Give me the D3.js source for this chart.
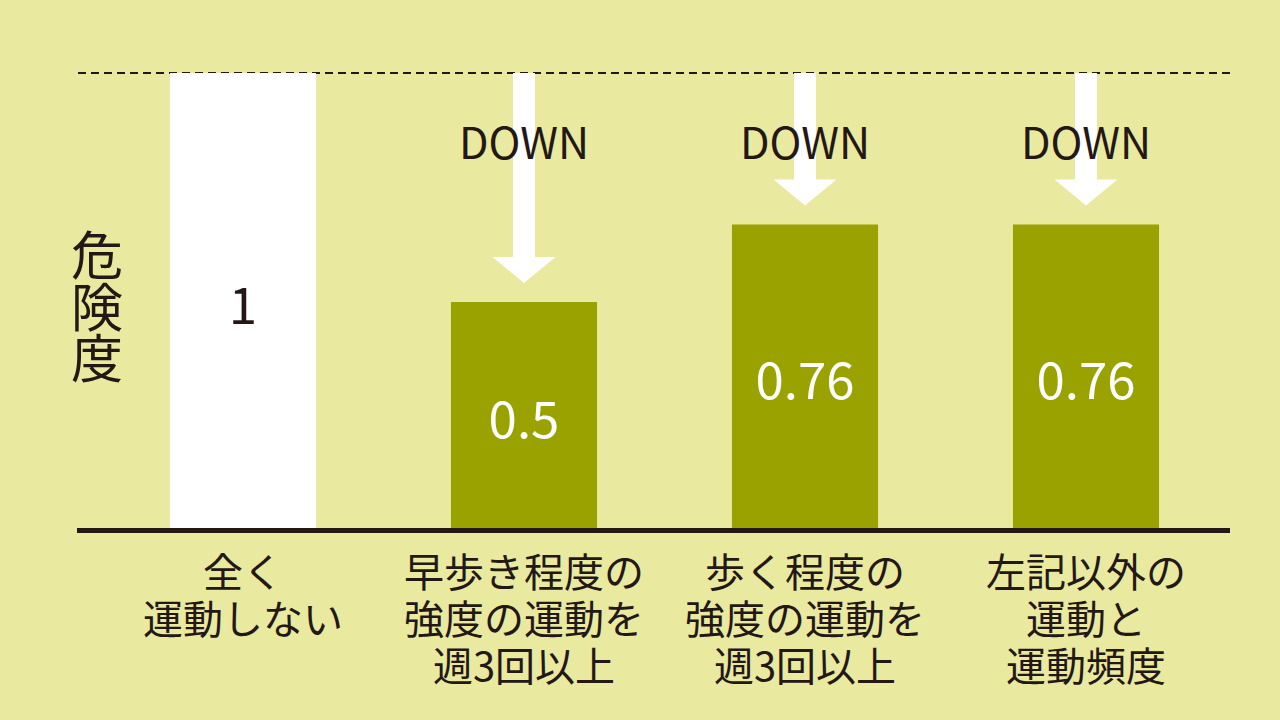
<!DOCTYPE html>
<html>
<head>
<meta charset="utf-8">
<script src="https://cdn.jsdelivr.net/npm/d3@7"></script>
<style>
  html, body { margin: 0; padding: 0; background: #e9e9a0; }
  svg { display: block; }
  text { font-family: "Noto Sans CJK JP", "Noto Sans", sans-serif; fill: #231815; }
</style>
</head>
<body>
<svg id="chart"></svg>
<script>
// Data
const categories = [
    ["全く", "運動しない"],
    ["早歩き程度の", "強度の運動を", "週3回以上"],
    ["歩く程度の", "強度の運動を", "週3回以上"],
    ["左記以外の", "運動と", "運動頻度"]
];
const riskValues = [1, 0.5, 0.76, 0.76];
const valueLabels = ["1", "0.5", "0.76", "0.76"];
const yLabel = ["危", "険", "度"];
const arrowText = "DOWN";

const W = 1280, H = 720;
const bg = "#e9e9a0";
const barColor = "#9aa200";
const ink = "#231815";

const svg = d3.select("#chart").attr("width", W).attr("height", H);
svg.append("rect").attr("width", W).attr("height", H).attr("fill", bg);

// Scales (the original chart is illustrative, bars are not drawn to a single linear ratio)
const x = d3.scaleBand()
    .domain(d3.range(categories.length))
    .range([102.5, 1226.5])
    .paddingInner(0.48)
    .paddingOuter(0.24);

const y = d3.scaleLinear()
    .domain([0, 0.5, 0.76, 1])
    .range([530, 302, 224.5, 73]);

// Reference dashed line at 1
svg.append("line")
    .attr("x1", 78).attr("x2", 1230)
    .attr("y1", y(1)).attr("y2", y(1))
    .attr("stroke", ink)
    .attr("stroke-width", 2)
    .attr("stroke-dasharray", "8,5");

// Bars
svg.selectAll(".bar")
    .data(riskValues)
    .enter().append("rect")
    .attr("class", "bar")
    .attr("x", (d, i) => x(i))
    .attr("y", d => y(d))
    .attr("width", x.bandwidth())
    .attr("height", d => y(0) - y(d))
    .attr("fill", (d, i) => i === 0 ? "#ffffff" : barColor);

// Value labels in the middle of each bar
svg.selectAll(".val")
    .data(riskValues)
    .enter().append("text")
    .attr("class", "val")
    .attr("x", (d, i) => x(i) + x.bandwidth() / 2)
    .attr("y", d => (y(d) + y(0)) / 2)
    .attr("text-anchor", "middle")
    .attr("dominant-baseline", "central")
    .style("font-size", "51px")
    .style("fill", (d, i) => i === 0 ? ink : "#ffffff")
    .text((d, i) => valueLabels[i]);

// DOWN arrows for the bars below 1
const arrows = svg.selectAll(".arrow")
    .data(riskValues.map((v, i) => ({ v, i })).filter(d => d.v < 1))
    .enter().append("g")
    .attr("class", "arrow");

arrows.append("path")
    .attr("fill", "#ffffff")
    .attr("d", d => {
        const cx = x(d.i) + x.bandwidth() / 2;
        const top = y(1);
        const tip = y(d.v) - 19;
        const headTop = tip - 26;
        return `M${cx - 11},${top} L${cx + 11},${top} L${cx + 11},${headTop} L${cx + 31.5},${headTop}
                L${cx},${tip} L${cx - 31.5},${headTop} L${cx - 11},${headTop} Z`;
    });

arrows.append("text")
    .attr("x", d => x(d.i) + x.bandwidth() / 2)
    .attr("y", 159)
    .attr("text-anchor", "middle")
    .style("font-size", "43px")
    .text(arrowText);

// Baseline axis
svg.append("line")
    .attr("x1", 77).attr("x2", 1230)
    .attr("y1", y(0) + 0.5).attr("y2", y(0) + 0.5)
    .attr("stroke", ink)
    .attr("stroke-width", 5);

// Category labels
const cat = svg.selectAll(".cat")
    .data(categories)
    .enter().append("text")
    .attr("class", "cat")
    .attr("text-anchor", "middle")
    .style("font-size", "40px");

cat.selectAll("tspan")
    .data((d, i) => d.map(line => ({ line, i })))
    .enter().append("tspan")
    .attr("x", d => x(d.i) + x.bandwidth() / 2)
    .attr("y", (d, j) => 587 + j * 47)
    .text(d => d.line);

// Vertical y label
svg.append("text")
    .attr("text-anchor", "middle")
    .style("font-size", "52px")
    .selectAll("tspan")
    .data(yLabel)
    .enter().append("tspan")
    .attr("x", 97)
    .attr("y", (d, i) => 275 + i * 51.5)
    .text(d => d);
</script>
</body>
</html>
